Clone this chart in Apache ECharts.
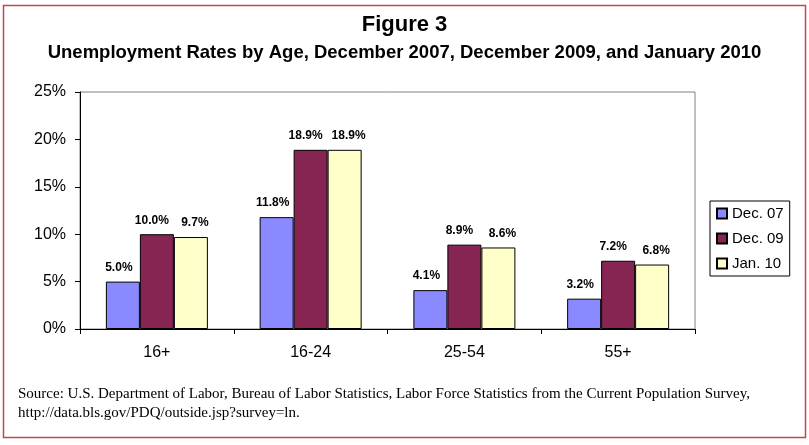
<!DOCTYPE html>
<html lang="en">
<head>
    <meta charset="UTF-8">
    <title>Figure 3</title>
    <style>
        html, body { margin: 0; padding: 0; background: #fff; }
    </style>
</head>
<body>
<div id="chart" style="width:809px;height:445px;"></div>

<script src="https://cdn.jsdelivr.net/npm/echarts@6/dist/echarts.min.js"></script>
<script type="text/javascript">

    // age groups and rates (%)
    var categories = ['16+', '16-24', '25-54', '55+'];
    var seriesNames = ['Dec. 07', 'Dec. 09', 'Jan. 10'];
    var dec07 = [5.0, 11.8, 4.1, 3.2];
    var dec09 = [10.0, 18.9, 8.9, 7.2];
    var jan10 = [9.7, 18.9, 8.6, 6.8];
    var colors = ['#8B89FF', '#862452', '#FFFFCA'];

    var sourceLines = [
        'Source: U.S. Department of Labor, Bureau of Labor Statistics, Labor Force Statistics from the Current Population Survey,',
        'http://data.bls.gov/PDQ/outside.jsp?survey=ln.'
    ];

    var myChart = echarts.init(document.getElementById('chart'));

    function barSeries(name, data, color, shift) {
        return {
            name: name,
            type: 'bar',
            data: data,
            barWidth: 34,
            barGap: '0%',
            itemStyle: { color: color, borderColor: '#000', borderWidth: 1 },
            label: {
                show: true,
                position: 'top',
                distance: 8,
                offset: [shift, 0],
                formatter: function (p) { return p.value.toFixed(1) + '%'; },
                fontFamily: 'Arial, Liberation Sans, sans-serif',
                fontWeight: 'bold',
                fontSize: 12,
                color: '#000'
            }
        };
    }

    var option = {
        animation: false,
        title: [
            {
                text: 'Figure 3',
                left: 'center',
                top: 9,
                textStyle: { fontFamily: 'Arial, Liberation Sans, sans-serif', fontSize: 22, fontWeight: 'bold', color: '#000' }
            },
            {
                text: 'Unemployment Rates by Age, December 2007, December 2009, and January 2010',
                left: 'center',
                top: 38,
                textStyle: { fontFamily: 'Arial, Liberation Sans, sans-serif', fontSize: 18.5, fontWeight: 'bold', color: '#000' }
            }
        ],
        legend: {
            orient: 'vertical',
            left: 710,
            top: 201,
            itemWidth: 10,
            itemHeight: 10,
            itemGap: 10,
            padding: [5, 6, 5, 6],
            borderColor: '#000',
            borderWidth: 1,
            icon: 'rect',
            data: seriesNames,
            textStyle: { fontFamily: 'Arial, Liberation Sans, sans-serif', fontSize: 15, color: '#000' }
        },
        grid: {
            left: 80,
            top: 92,
            width: 615,
            height: 237,
            show: true,
            borderColor: '#808080',
            borderWidth: 1,
            backgroundColor: '#fff'
        },
        xAxis: {
            type: 'category',
            data: categories,
            axisLine: { lineStyle: { color: '#000', width: 1 } },
            axisTick: { show: true, length: 5, lineStyle: { color: '#000' } },
            axisLabel: { fontFamily: 'Arial, Liberation Sans, sans-serif', fontSize: 16, color: '#000', margin: 16 }
        },
        yAxis: {
            type: 'value',
            min: 0,
            max: 25,
            interval: 5,
            axisLine: { show: true, lineStyle: { color: '#000', width: 1 } },
            axisTick: { show: true, length: 5, lineStyle: { color: '#000' } },
            splitLine: { show: false },
            axisLabel: {
                formatter: '{value}%',
                fontFamily: 'Arial, Liberation Sans, sans-serif',
                fontSize: 16,
                color: '#000',
                margin: 14
            }
        },
        series: [
            barSeries(seriesNames[0], dec07, colors[0], -4),
            barSeries(seriesNames[1], dec09, colors[1], -5),
            barSeries(seriesNames[2], jan10, colors[2], 4)
        ],
        graphic: [
            {
                type: 'rect',
                shape: { x: 3.5, y: 5.5, width: 802, height: 432 },
                style: { fill: 'none', stroke: '#C04848', lineWidth: 1.5 },
                z: 100
            },
            {
                type: 'text',
                left: 18,
                top: 385,
                style: {
                    text: sourceLines.join('\n'),
                    fontFamily: 'Liberation Serif, Times New Roman, serif',
                    fontSize: 15,
                    lineHeight: 19,
                    fill: '#000'
                }
            }
        ]
    };

    myChart.setOption(option);
</script>

</body>
</html>
